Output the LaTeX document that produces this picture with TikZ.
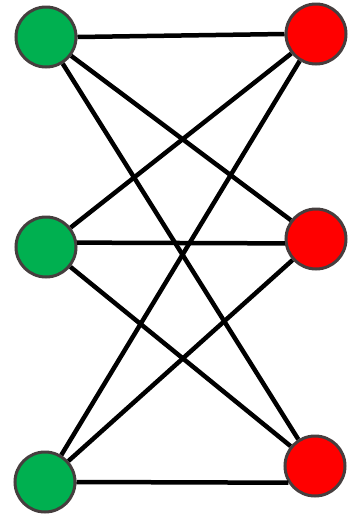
\documentclass[tikz,border=0pt]{standalone}
\usetikzlibrary{positioning}
\definecolor{rim}{RGB}{70,62,62}
\definecolor{leftfill}{RGB}{0,176,80}
\definecolor{rightfill}{RGB}{255,0,0}
\tikzset{
  every picture/.style={x=1pt, y=-1pt},
  vert/.style={circle, draw=rim, line width=3pt, minimum size=60pt, inner sep=0pt},
  lside/.style={vert, fill=leftfill},
  rside/.style={vert, fill=rightfill},
  edge/.style={line width=4.5pt, black},
}

\begin{document}
\begin{tikzpicture}
  \useasboundingbox (0,0) rectangle (348,515);
  \node[lside] (G1) at (46,37) {};
  \node[lside] (G2) at (46,247) {};
  \node[lside] (G3) at (45,482) {};
  \node[rside] (R1) at (316,34) {};
  \node[rside] (R2) at (316,239) {};
  \node[rside] (R3) at (315,466) {};
  % crossing edges
  \foreach \a/\b in {G1/R2,G1/R3,G2/R1,G2/R3,G3/R1,G3/R2}
    \draw[edge] (\a) -- (\b);
  % the three near-level ones
  \draw[edge] (G1.east) -- (R1.west);
  \draw[edge] (G2.8) -- (R2.188);
  \draw[edge] (G3.east) -- (R3.212);
\end{tikzpicture}
\end{document}
